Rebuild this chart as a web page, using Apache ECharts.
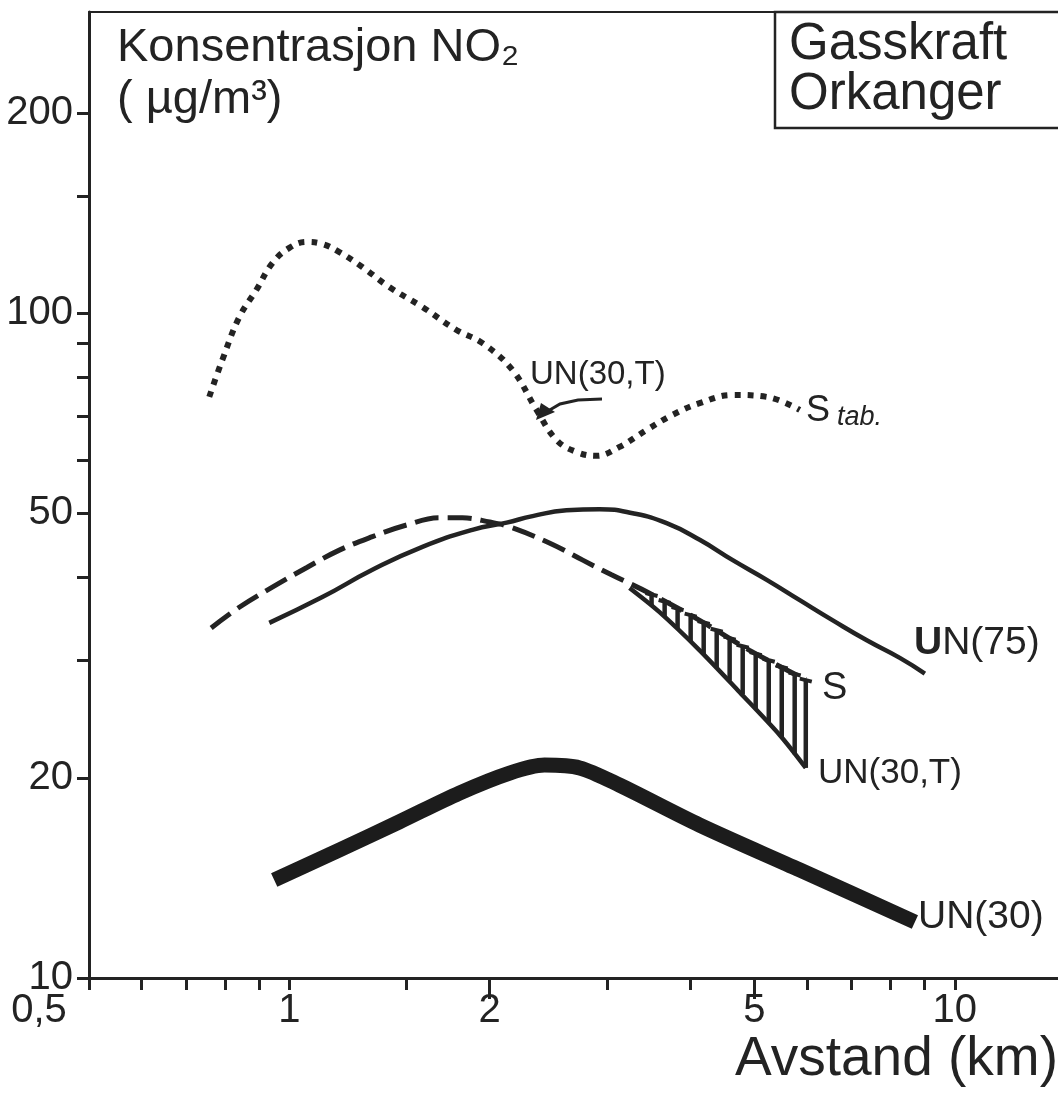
<!DOCTYPE html>
<html><head><meta charset="utf-8">
<script src="https://cdn.jsdelivr.net/npm/echarts@6/dist/echarts.min.js"></script>
<style>html,body{margin:0;padding:0;background:#fff}#c{width:1058px;height:1097px}</style>
</head><body><div id="c"></div>
<script>
// ---- axis ticks / labels ----
const xTickValues = [0.5, 1, 2, 5, 10];
const xTickLabels = ['0,5', '1', '2', '5', '10'];
const xMajorTicks = [2, 5];
const xMinorTicks = [0.5, 0.6, 0.7, 0.8, 0.9, 1, 1.5, 3, 4, 6, 7, 8, 9, 10];
const yTickValues = [10, 20, 50, 100, 200];
const yTickLabels = ['10', '20', '50', '100', '200'];
const yTicks = [10, 20, 30, 40, 50, 60, 70, 80, 90, 100, 150, 200];

// ---- series: S tab. (dotted) ----
const stabX = [0.758,0.793,0.841,0.892,0.943,1.0,1.061,1.121,1.189,1.287,1.413,1.585,1.783,1.951,2.164,2.352,2.521,2.702,2.895,3.135,3.442,3.766,4.136,4.637,5.216,5.847];
const stabY = [74.8,85.0,98.6,108.3,118.9,125.3,127.9,127.0,123.5,117.3,109.4,102.1,94.3,90.1,82.1,71.5,64.4,61.8,61.0,62.9,66.7,70.3,73.2,75.3,74.8,71.5];

// ---- series: S (dashed) ----
const sX = [0.763,0.841,0.943,1.061,1.189,1.333,1.500,1.681,1.820,2.0,2.143,2.459,2.760,3.049,3.477,4.136,4.916,5.971];
const sY = [33.6,36.1,38.7,41.4,44.0,46.1,48.0,49.2,49.2,48.5,47.7,45.1,42.5,40.4,37.9,34.5,31.1,28.1];

// ---- series: UN(75) (thin solid) ----
const un75X = [0.933,1.121,1.333,1.585,1.884,2.121,2.320,2.609,2.925,3.280,3.689,4.136,4.637,5.216,5.847,6.556,7.374,8.266,9.015];
const un75Y = [34.2,37.4,41.1,44.5,47.2,48.4,49.5,50.5,50.7,50.0,48.3,45.6,42.5,39.7,37.0,34.5,32.2,30.3,28.7];

// ---- series: UN(30,T) (lower edge of hatched band) ----
const un30tX = [3.245,3.600,4.136,4.750,5.455,5.971];
const un30tY = [38.6,35.5,31.1,26.9,23.2,20.7];

// ---- hatch bars between S and UN(30,T) ----
const hatchX = [3.502,3.664,3.832,4.009,4.194,4.387,4.588,4.800,5.021,5.253,5.494,5.746,5.971];
const hatchTop = [37.8,36.9,36.0,35.2,34.3,33.4,32.5,31.6,30.8,30.1,29.4,28.7,28.1];
const hatchBottom = [36.3,34.9,33.5,32.1,30.7,29.3,28.0,26.7,25.4,24.2,23.0,21.7,20.7];

// ---- series: UN(30) (thick) ----
const un30X = [0.949,1.189,1.463,1.801,2.143,2.418,2.730,3.135,4.136,5.847,8.71];
const un30Y = [14.04,15.58,17.17,18.97,20.33,20.9,20.7,19.5,16.98,14.54,12.14];

const INK = '#232323';
const FONT = '"Liberation Sans", Arial, Helvetica, sans-serif';
const zip = (a, b) => a.map((v, i) => [v, b[i]]);

const chart = echarts.init(document.getElementById('c'), null, {renderer: 'canvas'});

const baseX = {
  type: 'log', logBase: 10, min: 0.5, max: 14.29, gridIndex: 0,
  splitLine: {show: false}, minorTick: {show: false}
};

const option = {
  backgroundColor: '#fff',
  animation: false,
  grid: {left: 89, right: 0, top: 12, bottom: 119, containLabel: false, outerBoundsMode: 'none'},
  xAxis: [
    Object.assign({}, baseX, {
      position: 'bottom',
      axisLine: {show: true, lineStyle: {color: INK, width: 3}},
      axisTick: {show: true, customValues: xMinorTicks, length: 12, inside: false, lineStyle: {color: INK, width: 3}},
      axisLabel: {
        show: true, customValues: xTickValues, margin: 13,
        color: INK, fontSize: 40, fontFamily: FONT,
        formatter: v => {
          const i = xTickValues.findIndex(t => Math.abs(t - v) < 1e-6);
          if (i < 0) return '';
          return i === 0 ? '{l|' + xTickLabels[i] + '}' : xTickLabels[i];
        },
        rich: {l: {fontSize: 40, fontFamily: FONT, color: INK, padding: [0, 100, 0, 0]}}
      }
    }),
    Object.assign({}, baseX, {
      position: 'bottom',
      axisLine: {show: false},
      axisTick: {show: true, customValues: xMajorTicks, length: 21, lineStyle: {color: INK, width: 3}},
      axisLabel: {show: false}
    }),
    Object.assign({}, baseX, {
      position: 'top',
      axisLine: {show: true, lineStyle: {color: INK, width: 2}},
      axisTick: {show: false},
      axisLabel: {show: false}
    })
  ],
  yAxis: [{
    type: 'log', logBase: 10, min: 10, max: 283.6,
    position: 'left',
    splitLine: {show: false},
    axisLine: {show: true, lineStyle: {color: INK, width: 3}},
    axisTick: {show: true, customValues: yTicks, length: 12, lineStyle: {color: INK, width: 3}},
    axisLabel: {
      show: true, customValues: yTickValues, margin: 16,
      color: INK, fontSize: 40, fontFamily: FONT,
      formatter: v => { const i = yTickValues.findIndex(t => Math.abs(t - v) < 1e-6); return i >= 0 ? yTickLabels[i] : ''; }
    }
  }],
  series: [
    {
      name: 'S tab.', type: 'line', xAxisIndex: 0, yAxisIndex: 0,
      data: zip(stabX, stabY), smooth: 0.4, showSymbol: false,
      lineStyle: {color: INK, width: 6, type: [6, 7], cap: 'butt'}
    },
    {
      name: 'S', type: 'line', xAxisIndex: 0, yAxisIndex: 0,
      data: zip(sX, sY), smooth: 0.4, showSymbol: false,
      lineStyle: {color: INK, width: 5, type: [24, 9], cap: 'butt'}
    },
    {
      name: 'UN(75)', type: 'line', xAxisIndex: 0, yAxisIndex: 0,
      data: zip(un75X, un75Y), smooth: 0.5, showSymbol: false,
      lineStyle: {color: INK, width: 4.5}
    },
    {
      name: 'UN(30,T)', type: 'line', xAxisIndex: 0, yAxisIndex: 0,
      data: zip(un30tX, un30tY), smooth: 0.3, showSymbol: false,
      lineStyle: {color: INK, width: 4.5}
    },
    {
      name: 'hatch', type: 'custom', xAxisIndex: 0, yAxisIndex: 0,
      data: hatchX.map((x, i) => [x, hatchTop[i], hatchBottom[i]]),
      encode: {x: 0, y: [1, 2]},
      renderItem: (params, api) => {
        const p1 = api.coord([api.value(0), api.value(1)]);
        const p2 = api.coord([api.value(0), api.value(2)]);
        return {
          type: 'group',
          children: [
            {type: 'line', shape: {x1: p1[0], y1: p1[1], x2: p2[0], y2: p2[1]}, style: {stroke: INK, lineWidth: 4.5}},
            {type: 'line', shape: {x1: p1[0] - 6, y1: p1[1] - 1, x2: p1[0] + 6, y2: p1[1] + 2}, style: {stroke: INK, lineWidth: 4}}
          ]
        };
      }
    },
    {
      name: 'UN(30)', type: 'line', xAxisIndex: 0, yAxisIndex: 0,
      data: zip(un30X, un30Y), smooth: 0.3, showSymbol: false,
      lineStyle: {color: '#1c1c1c', width: 15, cap: 'butt', join: 'round'}
    }
  ],
  graphic: [
    {type: 'text', left: 117, top: 22, style: {text: 'Konsentrasjon NO₂\n( µg/m³)', font: '47px ' + FONT, fill: INK, lineHeight: 52}},
    {type: 'rect', shape: {x: 775, y: 12, width: 300, height: 116}, style: {fill: 'none', stroke: INK, lineWidth: 2.5}},
    {type: 'text', left: 789, top: 19, style: {text: 'Gasskraft\nOrkanger', font: '51px ' + FONT, fill: INK, lineHeight: 50}},
    {type: 'text', right: 0, top: 1032, style: {text: 'Avstand (km)', font: '55px ' + FONT, fill: INK}},
    {type: 'text', left: 914, top: 624, style: {
      text: '{b|U}N(75)', font: '39px ' + FONT, fill: INK,
      rich: {b: {fontSize: 39, fontWeight: 'bold', fontFamily: FONT, fill: INK}}
    }},
    {type: 'text', left: 822, top: 670, style: {text: 'S', font: '38px ' + FONT, fill: INK}},
    {type: 'text', left: 818, top: 756, style: {text: 'UN(30,T)', font: '35px ' + FONT, fill: INK}},
    {type: 'text', left: 918, top: 898, style: {text: 'UN(30)', font: '39px ' + FONT, fill: INK}},
    {type: 'text', left: 530, top: 358, style: {text: 'UN(30,T)', font: '33px ' + FONT, fill: INK}},
    {type: 'text', left: 806, top: 393, style: {text: 'S', font: '36px ' + FONT, fill: INK}},
    {type: 'text', left: 837, top: 404, style: {text: 'tab.', font: 'italic 27px ' + FONT, fill: INK}},
    {type: 'polyline', shape: {points: [[602, 399], [578, 400], [560, 404], [548, 411]]}, style: {stroke: INK, lineWidth: 3, fill: 'none'}},
    {type: 'polygon', shape: {points: [[536, 420], [541, 403], [555, 412]]}, style: {fill: INK}}
  ]
};
chart.setOption(option);
</script>
</body></html>
